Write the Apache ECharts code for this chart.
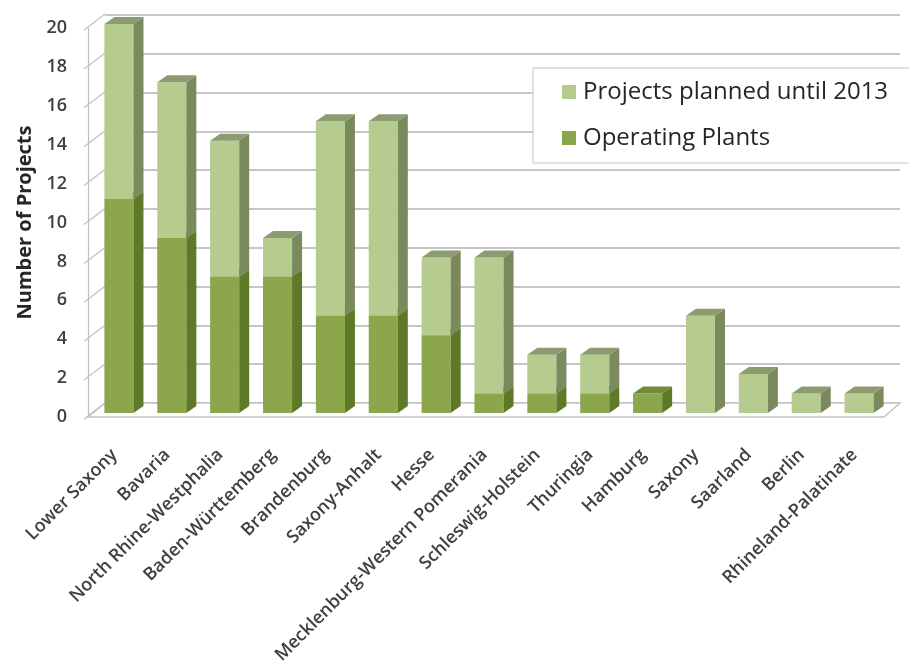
<!DOCTYPE html>
<html>
<head>
<meta charset="utf-8">
<script src="https://cdn.jsdelivr.net/npm/echarts@6/dist/echarts.min.js"></script>
<style>html,body{margin:0;padding:0;background:#fff}#c{width:909px;height:664px}</style>
</head>
<body>
<div id="c"></div>
<script>
const categories = ["Lower Saxony","Bavaria","North Rhine-Westphalia","Baden-Württemberg","Brandenburg","Saxony-Anhalt","Hesse","Mecklenburg-Western Pomerania","Schleswig-Holstein","Thuringia","Hamburg","Saxony","Saarland","Berlin","Rhineland-Palatinate"];
const operatingPlants = [11,9,7,7,5,5,4,1,1,1,1,0,0,0,0];
const plannedProjects = [9,8,7,2,10,10,4,7,2,2,0,5,2,1,1];
const yTicks = [0,2,4,6,8,10,12,14,16,18,20];

const FONT = "'Open Sans', sans-serif";
const DX = 10, DY = -7, OX = 4.5, OY = -4;
const WX = 17, WY = -14;

function barRenderer(front, side, top) {
  return function (params, api) {
    const i = api.value(0), b = api.value(1), t = api.value(2);
    if (t <= b) return;
    const p0 = api.coord([i, b]), p1 = api.coord([i, t]);
    const bw = api.size([1, 0])[0] * 0.55;
    const x0 = p0[0] - bw / 2 + OX, x1 = x0 + bw;
    const yb = p0[1] + OY, yt = p1[1] + OY;
    return {
      type: 'group',
      children: [
        {type: 'rect', shape: {x: x0, y: yt, width: bw, height: yb - yt}, style: {fill: front}},
        {type: 'polygon', shape: {points: [[x1, yb], [x1 + DX, yb + DY], [x1 + DX, yt + DY], [x1, yt]]}, style: {fill: side}},
        {type: 'polygon', shape: {points: [[x0, yt], [x0 + DX, yt + DY], [x1 + DX, yt + DY], [x1, yt]]}, style: {fill: top}}
      ]
    };
  };
}

function frameRenderer(params, api) {
  const cs = params.coordSys;
  const v = api.value(0);
  const p = api.coord([0, v]);
  const x = cs.x, y = p[1];
  const children = [
    {type: 'line', shape: {x1: x - 4, y1: y + 2, x2: x + WX, y2: y + WY}, style: {stroke: '#c0c0c0', lineWidth: 1.2}}
  ];
  if (v === 0) {
    const r = cs.x + cs.width;
    children.unshift({type: 'polygon', shape: {points: [[x, y], [x + WX, y + WY], [r + 19, y + WY], [r + 3, y]]},
      style: {fill: '#ffffff', stroke: '#c4c4c4', lineWidth: 1.5}, z2: -1});
  }
  return {type: 'group', children: children};
}

const chart = echarts.init(document.getElementById('c'), null, {renderer: 'canvas'});
chart.setOption({
  animation: false,
  backgroundColor: '#ffffff',
  grid: [
    {left: 88, right: 28, top: 28, bottom: 247, containLabel: false, outerBoundsMode: 'none'},
    {left: 105, right: 9, top: 15, bottom: 261, containLabel: false, outerBoundsMode: 'none'}
  ],
  xAxis: [
    {type: 'category', gridIndex: 0, data: categories,
     axisLine: {show: false}, axisTick: {show: false},
     axisLabel: {interval: 0, rotate: 45, margin: 35, color: '#404040', fontSize: 18, fontWeight: 600, fontFamily: FONT}},
    {type: 'category', gridIndex: 1, data: categories, show: false}
  ],
  yAxis: [
    {type: 'value', gridIndex: 0, min: 0, max: 20, interval: 2,
     name: 'Number of Projects', nameLocation: 'middle', nameGap: 53,
     nameTextStyle: {color: '#262626', fontSize: 20, fontWeight: 'bold', fontFamily: FONT},
     axisLine: {show: true, lineStyle: {color: '#c0c0c0', width: 1.2}},
     axisTick: {show: false}, splitLine: {show: false},
     axisLabel: {color: '#404040', fontSize: 18, fontWeight: 600, fontFamily: FONT, margin: 21}},
    {type: 'value', gridIndex: 1, min: 0, max: 20, interval: 2,
     axisLine: {show: false}, axisTick: {show: false}, axisLabel: {show: false},
     splitLine: {show: true, lineStyle: {color: '#c6c6c6', width: 2}}}
  ],
  legend: {
    orient: 'vertical', left: 533, top: 68,
    data: ['Projects planned until 2013', 'Operating Plants'],
    backgroundColor: '#ffffff', borderColor: '#c4c4c4', borderWidth: 1,
    padding: [11, 40, 12, 29], itemGap: 20, itemWidth: 14, itemHeight: 14,
    icon: 'rect',
    textStyle: {color: '#262626', fontSize: 24, fontFamily: FONT, lineHeight: 26, padding: [0, 0, 0, 2]}
  },
  series: [
    {type: 'custom', name: 'frame', xAxisIndex: 0, yAxisIndex: 0, silent: true, z: 1,
     data: yTicks.map(v => [v]), encode: {y: 0}, renderItem: frameRenderer},
    {type: 'custom', name: 'Operating Plants', xAxisIndex: 0, yAxisIndex: 0, z: 3,
     itemStyle: {color: '#8aa64a'},
     data: categories.map((c, i) => [i, 0, operatingPlants[i]]),
     encode: {x: 0, y: [1, 2]},
     renderItem: barRenderer('#8ba64b', '#5f7a27', '#6f8a38')},
    {type: 'custom', name: 'Projects planned until 2013', xAxisIndex: 0, yAxisIndex: 0, z: 3,
     itemStyle: {color: '#b5cc8e'},
     data: categories.map((c, i) => [i, operatingPlants[i], operatingPlants[i] + plannedProjects[i]]),
     encode: {x: 0, y: [1, 2]},
     renderItem: barRenderer('#b5cc8e', '#7b8a5c', '#8d9b70')}
  ]
});
</script>
</body>
</html>
